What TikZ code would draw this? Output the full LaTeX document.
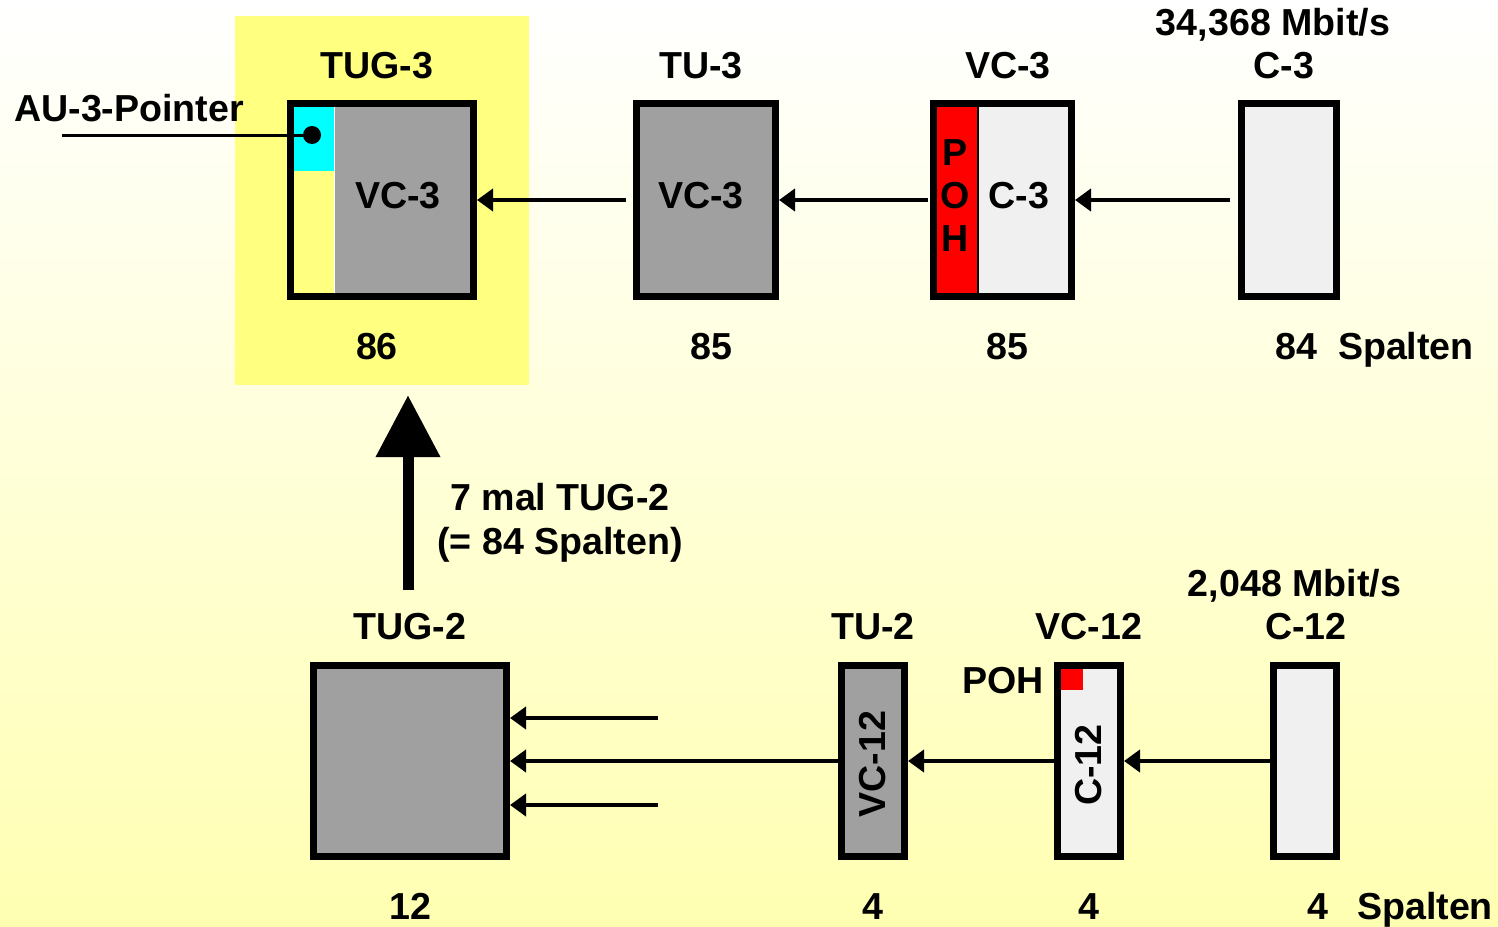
\documentclass[tikz,border=0pt]{standalone}
\usepackage{fontspec}
\setmainfont{Liberation Sans}
\usetikzlibrary{arrows.meta}
\definecolor{boxgray}{RGB}{160,160,160}
\definecolor{boxlight}{RGB}{240,240,240}
\definecolor{hlyellow}{RGB}{255,255,128}
\definecolor{bgyellow}{RGB}{255,255,178}
\definecolor{aucyan}{RGB}{0,255,255}
\tikzset{
  box/.style={draw,line width=7pt,inner sep=0pt},
  lbl/.style={anchor=base,inner sep=0pt},
  arr/.style={line width=4pt,-{Triangle[length=16pt,width=22pt]}},
  bigarr/.style={line width=11pt,-{Triangle[length=62pt,width=62pt]}},
}
\begin{document}
\begin{tikzpicture}[x=1pt,y=-1pt,font=\fontsize{37.6}{44}\selectfont\bfseries]
\shade[top color=white,bottom color=bgyellow] (0,0) rectangle (1498,926);
\useasboundingbox (0,0) rectangle (1498,926);
\node[fill=hlyellow,minimum width=294pt,minimum height=369pt] (hl) at (382,200.5) {};
\node[box,fill=boxgray,minimum width=183pt,minimum height=193pt,path picture={
  \fill[hlyellow] (path picture bounding box.north west) rectangle ([xshift=44pt]path picture bounding box.south west);
  \fill[aucyan] (path picture bounding box.north west) rectangle ++(44pt,-67pt);
  \draw[white,line width=1.2pt] ([xshift=44pt]path picture bounding box.north west) -- ([xshift=44pt]path picture bounding box.south west);
}] (tug3) at (382,200) {};
\node[box,fill=boxgray,minimum width=139pt,minimum height=193pt] (tu3) at (706,200) {};
\node[box,fill=boxlight,minimum width=138pt,minimum height=193pt,path picture={
  \fill[red] (path picture bounding box.north west) rectangle ([xshift=44.5pt]path picture bounding box.south west);
  \draw[line width=1.5pt] ([xshift=44.5pt]path picture bounding box.north west) -- ([xshift=44.5pt]path picture bounding box.south west);
}] (vc3) at (1002.5,200) {};
\node[box,fill=boxlight,minimum width=95pt,minimum height=193pt] (c3) at (1289,200) {};
\node[circle,fill,inner sep=0pt,minimum size=18pt] (ptr) at (312,135) {};
\coordinate (ptrend) at (62,135);
\draw[line width=3pt] (ptrend) -- (ptr.center);
\node[lbl] (tug3t) at (377,78) {TUG-3};\node[lbl] (tu3t) at (701,78) {TU-3};
\node[lbl] (vc3t) at (1008,78) {VC-3};\node[lbl] (c3t) at (1284,78) {C-3};
\node[lbl] (c3rate) at (1273,35) {34,368 Mbit/s};
\node[lbl,anchor=base west] (aup) at (14,121) {AU-3-Pointer};
\node[lbl] (tug3in) at (398,208) {VC-3};\node[lbl] (tu3in) at (701,208) {VC-3};
\node[lbl] (vc3in) at (1019,208) {C-3};
\node[lbl] (pohp) at (955,165) {P};\node[lbl] (poho) at (955,208) {O};\node[lbl] (pohh) at (955,251) {H};
\node[lbl] (tug3n) at (377,359) {86};\node[lbl] (tu3n) at (711,359) {85};
\node[lbl] (vc3n) at (1007,359) {85};\node[lbl,anchor=base west] (c3n) at (1275,359) {84\hspace{21pt}Spalten};
\draw[arr] ([xshift=-8pt]c3.west) -- (vc3.east);
\draw[arr] ([xshift=-2pt]vc3.west) -- (tu3.east);
\draw[arr] ([xshift=-7pt]tu3.west) -- (tug3.east);
\node[box,fill=boxgray,minimum width=193pt,minimum height=191pt] (tug2) at (410,761) {};
\node[box,fill=boxgray,minimum width=63pt,minimum height=191pt] (tu2) at (873,761) {};
\node[box,fill=boxlight,minimum width=63pt,minimum height=191pt,path picture={
  \fill[red] (path picture bounding box.north west) rectangle ++(25.5pt,-24.5pt);
}] (vc12) at (1089,761) {};
\node[box,fill=boxlight,minimum width=63pt,minimum height=191pt] (c12) at (1305,761) {};
\node[rotate=90,inner sep=0pt] (tu2in) at (873,764) {VC-12};
\node[rotate=90,inner sep=0pt] (vc12in) at (1089,765) {C-12};
\node[lbl] (tug2t) at (410,639) {TUG-2};\node[lbl] (tu2t) at (873,639) {TU-2};
\node[lbl] (vc12t) at (1089,639) {VC-12};\node[lbl] (c12t) at (1306,639) {C-12};
\node[lbl] (c12rate) at (1294.5,596) {2,048 Mbit/s};
\node[lbl] (poh) at (1003,693) {POH};
\node[lbl] (tug2n) at (410,919) {12};\node[lbl] (tu2n) at (873,919) {4};
\node[lbl] (vc12n) at (1089,919) {4};\node[lbl,anchor=base west] (c12n) at (1307,919) {4\hspace{29pt}Spalten};
\coordinate (in1) at (658,718);\coordinate (in3) at (658,805);
\draw[arr] (c12.west) -- (vc12.east);
\draw[arr] (vc12.west) -- (tu2.east);
\draw[arr] (tu2.west) -- (tug2.east);
\draw[arr] (in1) -- (in1 -| tug2.east);
\draw[arr] (in3) -- (in3 -| tug2.east);
\draw[bigarr] ([xshift=-2pt,yshift=72pt]tug2.north) -- ([xshift=26pt,yshift=-10pt]hl.south);
\node[lbl] (mult) at (560,510) {7 mal TUG-2};
\node[lbl] (multn) at (560,554) {(= 84 Spalten)};
\end{tikzpicture}
\end{document}
